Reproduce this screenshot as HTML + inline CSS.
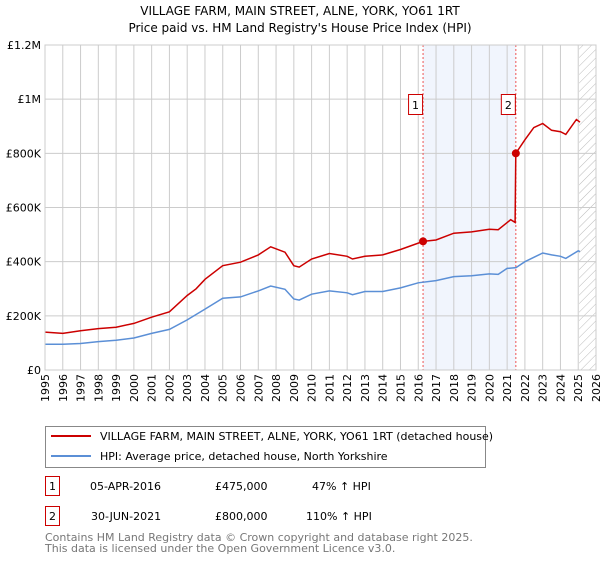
<!DOCTYPE html>
<html><head><meta charset="utf-8"><style>
body{margin:0;background:#fff;font-family:"Liberation Sans","DejaVu Sans",sans-serif;}
svg text{font-family:"DejaVu Sans","Liberation Sans",sans-serif;}
</style></head><body>
<svg id="c" width="600" height="560" xmlns="http://www.w3.org/2000/svg">
<defs><pattern id="hatch" width="6" height="6" patternUnits="userSpaceOnUse" patternTransform="rotate(45)"><line x1="0" y1="0" x2="0" y2="6" stroke="#bbb" stroke-width="1"/></pattern></defs>
<text x="300" y="15" text-anchor="middle" font-size="12">VILLAGE FARM, MAIN STREET, ALNE, YORK, YO61 1RT</text>
<text x="300" y="32" text-anchor="middle" font-size="12">Price paid vs. HM Land Registry's House Price Index (HPI)</text>
<g id="plot"></g>
<g>
<rect x="45.5" y="426.5" width="440" height="41" fill="#fff" stroke="#888"/>
<line x1="51" y1="436" x2="91" y2="436" stroke="#cc0000" stroke-width="2"/>
<text x="100" y="440" font-size="11">VILLAGE FARM, MAIN STREET, ALNE, YORK, YO61 1RT (detached house)</text>
<line x1="51" y1="456" x2="91" y2="456" stroke="#5b8fd6" stroke-width="2"/>
<text x="100" y="460" font-size="11">HPI: Average price, detached house, North Yorkshire</text>
</g>
<g font-size="11">
<rect x="45.5" y="476.5" width="14" height="19" fill="#fff" stroke="#cc0000"/><text x="52.5" y="490" text-anchor="middle">1</text>
<text x="90" y="490">05-APR-2016</text><text x="215" y="490">£475,000</text><text x="312" y="490">47% ↑ HPI</text>
<rect x="45.5" y="506.5" width="14" height="19" fill="#fff" stroke="#cc0000"/><text x="52.5" y="520" text-anchor="middle">2</text>
<text x="91" y="520">30-JUN-2021</text><text x="215" y="520">£800,000</text><text x="306" y="520">110% ↑ HPI</text>
</g>
<text x="45" y="541" font-size="11" fill="#777">Contains HM Land Registry data © Crown copyright and database right 2025.</text>
<text x="45" y="552" font-size="11" fill="#777">This data is licensed under the Open Government Licence v3.0.</text>
</svg>
<script>
const redX=[1995,1996,1997,1998,1999,2000,2001,2002,2003,2003.5,2004,2005,2006,2007,2007.7,2008.5,2009,2009.3,2010,2011,2012,2012.3,2013,2014,2015,2016.27,2017,2018,2019,2020,2020.5,2021.2,2021.45,2021.49,2022,2022.5,2023,2023.5,2024,2024.3,2024.9,2025.1];
const redY=[140,135,145,153,158,172,195,215,275,300,335,385,398,425,455,435,385,380,410,430,420,410,420,425,445,475,480,505,510,520,518,555,545,800,850,895,910,885,880,870,925,915];
const hpiX=[1995,1996,1997,1998,1999,2000,2001,2002,2003,2004,2005,2006,2007,2007.7,2008.5,2009,2009.3,2010,2011,2012,2012.3,2013,2014,2015,2016,2017,2018,2019,2020,2020.5,2021,2021.5,2022,2023,2023.5,2024,2024.3,2025,2025.1];
const hpiY=[95,95,98,105,110,118,135,150,185,225,265,270,292,310,298,262,258,280,292,285,278,290,290,303,322,330,345,348,355,353,375,378,400,432,425,420,412,440,437];
const yTicks=[0,200,400,600,800,1000,1200];
const yLabels=["£0","£200K","£400K","£600K","£800K","£1M","£1.2M"];
const years=[1995,1996,1997,1998,1999,2000,2001,2002,2003,2004,2005,2006,2007,2008,2009,2010,2011,2012,2013,2014,2015,2016,2017,2018,2019,2020,2021,2022,2023,2024,2025,2026];
const sales=[[2016.27,475,"1"],[2021.49,800,"2"]];
const L=45,R=596,T=45,B=370;
const xs=v=>L+(v-1995)/(2026-1995)*(R-L);
const ys=v=>B-v/1200*(B-T);
const g=document.getElementById('plot');const NS="http://www.w3.org/2000/svg";
function mk(t,a,p){const e=document.createElementNS(NS,t);for(const k in a)e.setAttribute(k,a[k]);(p||g).appendChild(e);return e;}
let e=mk('rect',{x:xs(sales[0][0]),y:T,width:xs(sales[1][0])-xs(sales[0][0]),height:B-T,fill:'#eef3fc',opacity:0.8});


e=mk('rect',{x:xs(2025.05),y:T,width:R-xs(2025.05),height:B-T,fill:'url(#hatch)'});


years.forEach(y=>{const l=mk('line',{x1:xs(y),x2:xs(y),y1:T,y2:B,stroke:'#ccc'});


const t=mk('text',{x:0,y:0,'font-size':11,'text-anchor':'end',transform:`translate(${xs(y)+4},${B+4}) rotate(-90)`});t.textContent=y;

});
yTicks.forEach((v,i)=>{const l=mk('line',{x1:L,x2:R,y1:ys(v),y2:ys(v),stroke:'#ccc'});


const t=mk('text',{x:L-4,y:ys(v)+4,'font-size':11,'text-anchor':'end'});t.textContent=yLabels[i];

});
sales.forEach(s=>{const l=mk('line',{x1:xs(s[0]),x2:xs(s[0]),y1:T,y2:B,stroke:'#e55','stroke-dasharray':'2,2'});

});
const path=(X,Y)=>X.map((x,i)=>(i?'L':'M')+xs(x).toFixed(1)+','+ys(Y[i]).toFixed(1)).join('');
e=mk('path',{d:path(hpiX,hpiY),fill:'none',stroke:'#5b8fd6','stroke-width':1.5});


e=mk('path',{d:path(redX,redY),fill:'none',stroke:'#cc0000','stroke-width':1.5});


sales.forEach(s=>{const c=mk('circle',{cx:xs(s[0]),cy:ys(s[1]),r:4,fill:'#cc0000'});


const r=mk('rect',{x:xs(s[0])-14.5,y:94.5,width:14,height:20,fill:'#fff',stroke:'#cc0000'});


const t=mk('text',{x:xs(s[0])-7.5,y:109,'font-size':11,'text-anchor':'middle'});t.textContent=s[2];

});
e=mk('rect',{x:L,y:T,width:R-L,height:B-T,fill:'none',stroke:'#ccc'});


</script>
</body></html>
